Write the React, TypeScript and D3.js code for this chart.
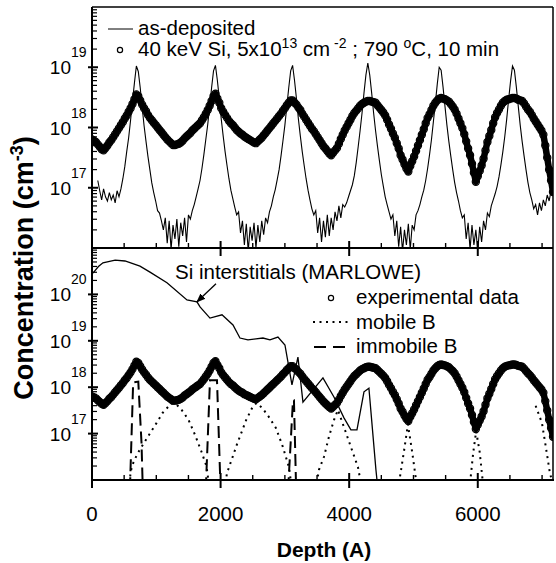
import React from 'react';
import * as d3 from 'd3';

// ---------- data ----------
const xDomain = [0, 7170];
const xTickValues = [0, 2000, 4000, 6000];
const xTickLabels = ['0', '2000', '4000', '6000'];
const xMinorStep = 500;
const topExponents = [17, 18, 19];
const botExponents = [17, 18, 19, 20];

// as-deposited SIMS profile (log10 concentration), depth = asDepStart + i*asDepStep
const asDepStart = 90;
const asDepStep = 30;
const asDeposited = [
  17.12, 16.95, 16.8, 16.98, 16.85, 16.78, 16.92, 16.8, 16.88, 16.75,
  16.95, 16.85, 16.98, 17.15, 17.35, 17.6, 17.83, 18.12, 18.44, 18.74,
  19.02, 18.93, 18.66, 18.34, 18.03, 17.77, 17.52, 17.3, 17.08, 16.92,
  16.78, 16.62, 16.58, 16.45, 16.3, 16.5, 16.08, 16.45, 15.98, 16.38,
  16.15, 16.48, 16.02, 16.42, 16.2, 16.5, 16.1, 16.55, 16.48, 16.62,
  16.72, 16.85, 16.98, 17.12, 17.32, 17.55, 17.8, 18.05, 18.35, 18.66,
  18.94, 19.03, 18.78, 18.48, 18.14, 17.86, 17.6, 17.37, 17.15, 16.96,
  16.82, 16.68, 16.55, 16.6, 16.25, 16.45, 16.05, 16.4, 15.95, 16.35,
  16.12, 16.42, 16.0, 16.38, 16.1, 16.45, 16.22, 16.5, 16.42, 16.6,
  16.7, 16.85, 16.97, 17.13, 17.3, 17.53, 17.78, 18.04, 18.35, 18.66,
  18.94, 19.03, 18.78, 18.48, 18.14, 17.86, 17.6, 17.37, 17.15, 16.96,
  16.8, 16.65, 16.55, 16.62, 16.25, 16.5, 16.1, 16.45, 16.18, 16.55,
  16.2, 16.5, 16.3, 16.6, 16.45, 16.7, 16.5, 16.72, 16.68, 16.75,
  16.85, 16.95, 17.05, 17.2, 17.42, 17.68, 17.95, 18.24, 18.57, 18.87,
  19.07, 18.87, 18.57, 18.24, 17.95, 17.69, 17.45, 17.22, 17.03, 16.85,
  16.72, 16.6, 16.48, 16.55, 16.2, 16.45, 16.02, 16.35, 15.95, 16.3,
  16.05, 16.4, 15.98, 16.38, 16.3, 16.55, 16.62, 16.72, 16.85, 16.96,
  17.12, 17.32, 17.55, 17.8, 18.1, 18.4, 18.72, 19.0, 18.95, 18.67,
  18.35, 18.04, 17.77, 17.53, 17.3, 17.09, 16.92, 16.78, 16.62, 16.5,
  16.55, 16.15, 16.42, 15.98, 16.38, 16.05, 16.3, 15.96, 16.35, 16.1,
  16.45, 16.3, 16.58, 16.52, 16.7, 16.8, 16.9, 17.02, 17.18, 17.38,
  17.6, 17.85, 18.14, 18.47, 18.77, 19.02, 18.95, 18.67, 18.35, 18.04,
  17.77, 17.53, 17.3, 17.09, 16.92, 16.8, 16.65, 16.72, 16.55, 16.75,
  16.62, 16.8, 16.7, 16.88, 16.78, 16.95, 17.0,
];

// experimental data after 40 keV Si implant + anneal (log10), depth = expStart + i*expStep
const expStart = 0;
const expStep = 30;
const experimental = [
  17.8, 17.78, 17.76, 17.72, 17.68, 17.64, 17.62, 17.66, 17.7, 17.75,
  17.79, 17.84, 17.89, 17.94, 17.99, 18.04, 18.09, 18.15, 18.2, 18.26,
  18.32, 18.39, 18.47, 18.55, 18.52, 18.45, 18.38, 18.32, 18.27, 18.21,
  18.16, 18.12, 18.08, 18.04, 18.0, 17.96, 17.92, 17.88, 17.84, 17.8,
  17.77, 17.74, 17.71, 17.71, 17.72, 17.73, 17.75, 17.78, 17.82, 17.85,
  17.88, 17.91, 17.95, 17.98, 18.01, 18.04, 18.07, 18.12, 18.17, 18.23,
  18.29, 18.36, 18.44, 18.52, 18.56, 18.48, 18.41, 18.32, 18.26, 18.21,
  18.16, 18.11, 18.07, 18.04, 18.0, 17.96, 17.93, 17.9, 17.88, 17.85,
  17.83, 17.81, 17.79, 17.77, 17.75, 17.74, 17.77, 17.8, 17.83, 17.87,
  17.91, 17.95, 17.99, 18.03, 18.07, 18.11, 18.15, 18.19, 18.23, 18.28,
  18.32, 18.37, 18.41, 18.45, 18.45, 18.41, 18.38, 18.33, 18.29, 18.23,
  18.18, 18.13, 18.08, 18.03, 17.98, 17.94, 17.89, 17.84, 17.79, 17.74,
  17.69, 17.65, 17.61, 17.57, 17.54, 17.58, 17.62, 17.66, 17.73, 17.81,
  17.88, 17.95, 18.01, 18.07, 18.13, 18.19, 18.24, 18.28, 18.32, 18.36,
  18.39, 18.41, 18.43, 18.44, 18.44, 18.43, 18.42, 18.41, 18.37, 18.33,
  18.29, 18.25, 18.2, 18.13, 18.05, 17.98, 17.9, 17.83, 17.74, 17.65,
  17.54, 17.47, 17.39, 17.32, 17.27, 17.36, 17.44, 17.52, 17.61, 17.7,
  17.79, 17.88, 17.97, 18.07, 18.16, 18.22, 18.29, 18.36, 18.41, 18.45,
  18.48, 18.49, 18.48, 18.47, 18.45, 18.43, 18.39, 18.35, 18.3, 18.23,
  18.15, 18.07, 17.99, 17.89, 17.77, 17.65, 17.54, 17.4, 17.25, 17.1,
  17.19, 17.28, 17.37, 17.48, 17.62, 17.76, 17.86, 17.96, 18.07, 18.17,
  18.24, 18.3, 18.36, 18.41, 18.44, 18.46, 18.47, 18.48, 18.49, 18.49,
  18.48, 18.46, 18.45, 18.44, 18.4, 18.35, 18.3, 18.26, 18.21, 18.15,
  18.1, 18.05, 18.0, 17.95, 17.88, 17.7, 17.5, 17.3, 17.12, 16.93,
];

// Si interstitials (MARLOWE): [depth, log10]
const siInterstitials: [number, number][] = [
  [15, 20.46], [100, 20.6], [170, 20.68], [360, 20.74], [513, 20.72], [746, 20.61],
  [902, 20.48], [1166, 20.25], [1477, 19.88], [1633, 19.84], [1680, 19.73],
  [1835, 19.49], [2022, 19.56], [2193, 19.34], [2301, 19.06], [2426, 19.02],
  [2550, 19.04], [2659, 19.06], [2768, 19.02], [2892, 19.08], [3001, 18.91],
  [3110, 18.05], [3203, 18.65], [3281, 17.68], [3592, 18.2], [3763, 17.79],
  [3919, 17.34], [4027, 17.08], [4121, 17.08], [4230, 17.9], [4307, 17.98],
  [4416, 16.22], [4447, 15.8],
];

// mobile B: separate arcs [depth, log10]
const mobileB: [number, number][][] = [
  [[560, 15.8], [620, 16.3], [700, 16.55], [800, 16.78], [900, 17.0], [1000, 17.22],
   [1100, 17.45], [1200, 17.6], [1260, 17.66], [1320, 17.62], [1400, 17.5],
   [1500, 17.3], [1600, 16.98], [1700, 16.62], [1780, 16.3], [1830, 15.8]],
  [[2060, 15.8], [2100, 16.15], [2250, 16.75], [2400, 17.3], [2500, 17.58],
   [2560, 17.66], [2650, 17.55], [2750, 17.36], [2860, 17.12], [2960, 16.75],
   [3063, 16.28], [3110, 15.8]],
  [[3480, 15.8], [3530, 16.22], [3608, 16.5], [3685, 16.93], [3763, 17.29],
   [3825, 17.51], [3919, 17.14], [4027, 16.71], [4136, 16.28], [4200, 15.8]],
  [[4760, 15.8], [4850, 16.6], [4914, 17.2], [4980, 16.6], [5060, 15.8]],
  [[5870, 15.8], [5930, 16.6], [5975, 17.05], [6030, 16.6], [6090, 15.8]],
  [[6900, 17.6], [6998, 17.23], [7060, 16.7], [7122, 16.15], [7170, 15.9]],
];

// immobile B: separate spikes [depth, log10]
const immobileB: [number, number][][] = [
  [[590, 15.8], [640, 18.1], [720, 18.12], [770, 16.8], [790, 15.8]],
  [[1770, 15.8], [1835, 18.15], [1944, 18.15], [1990, 16.2], [2000, 15.8]],
  [[3050, 15.8], [3126, 17.72], [3141, 17.72], [3175, 15.8]],
];

// ---------- layout ----------
const W = 556;
const H = 563;
const L = 92;
const R = 553;
const TOP = 7;
const MID = 248;
const BOT = 480;
const FONT = "'Liberation Sans', Arial, Helvetica, sans-serif";

const x = d3.scaleLinear().domain(xDomain).range([L, R]);
const yT = d3.scaleLog().domain([1e16, 1e20]).range([MID, TOP]);
const yB = d3.scaleLog().domain([1e16, 1e21]).range([BOT, MID]);

const p10 = (v: number) => Math.pow(10, v);

function minorTicks(lo: number, hi: number) {
  const out: number[] = [];
  for (let e = lo; e < hi; e++) for (let m = 2; m <= 9; m++) out.push(m * p10(e));
  return out;
}

function YAxis({ y, lo, hi, labels }: { y: any; lo: number; hi: number; labels: number[] }) {
  return (
    <g>
      {minorTicks(lo, hi).map((v, i) => (
        <line key={'m' + i} x1={L} x2={L + 5} y1={y(v)} y2={y(v)} stroke="#000" strokeWidth={1.2} />
      ))}
      {labels.map((e) => (
        <g key={e}>
          <line x1={L - 4} x2={L + 6} y1={y(p10(e))} y2={y(p10(e))} stroke="#000" strokeWidth={2} />
          <text x={71} y={y(p10(e)) + 7} textAnchor="end" fontSize={19} fontFamily={FONT}>10</text>
          <text x={71} y={y(p10(e)) - 10} textAnchor="start" fontSize={14} fontFamily={FONT}>{String(e)}</text>
        </g>
      ))}
    </g>
  );
}

function XTicks({ y0 }: { y0: number }) {
  const minors = d3.range(xMinorStep, xDomain[1], xMinorStep).filter((v) => !xTickValues.includes(v));
  return (
    <g>
      {minors.map((v) => (
        <line key={v} x1={x(v)} x2={x(v)} y1={y0} y2={y0 - 5} stroke="#000" strokeWidth={1.4} />
      ))}
      {xTickValues.filter((v) => v > 0).map((v) => (
        <line key={'M' + v} x1={x(v)} x2={x(v)} y1={y0 - 7} y2={y0 + 8} stroke="#000" strokeWidth={2} />
      ))}
    </g>
  );
}

function ExpBand({ y }: { y: any }) {
  const pts: [number, number][] = experimental.map((v, i) => [expStart + i * expStep, v]);
  const line = d3.line<[number, number]>().x((d) => x(d[0])).y((d) => y(p10(d[1])));
  return (
    <g>
      <path d={line(pts) || ''} fill="none" stroke="#000" strokeWidth={6.5} strokeLinejoin="round" strokeLinecap="round" />
      {pts.map((d, i) => (
        <circle key={i} cx={x(d[0])} cy={y(p10(d[1]))} r={3.6} fill="none" stroke="#000" strokeWidth={1.2} />
      ))}
    </g>
  );
}

export default function App() {
  const lineTop = d3.line<[number, number]>().x((d) => x(d[0])).y((d) => yT(p10(d[1])));
  const lineBot = d3.line<[number, number]>().x((d) => x(d[0])).y((d) => yB(p10(d[1])));
  const asDepPts: [number, number][] = asDeposited.map((v, i) => [asDepStart + i * asDepStep, v]);

  const tip: [number, number] = [x(siInterstitials[9][0]), yB(p10(siInterstitials[9][1]))];
  const tail: [number, number] = [tip[0] + 19, tip[1] - 18];

  return (
    <div style={{ position: 'absolute', left: 0, top: 0 }}>
      <svg width={W} height={H} style={{ display: 'block', background: '#fff' }}>
        <defs>
          <clipPath id="clipTop"><rect x={L} y={TOP} width={R - L} height={MID - TOP} /></clipPath>
          <clipPath id="clipBot"><rect x={L} y={MID} width={R - L} height={BOT - MID} /></clipPath>
          <marker id="arrow" viewBox="0 0 10 10" refX={9} refY={5} markerWidth={7} markerHeight={7} orient="auto">
            <path d="M0,1 L10,5 L0,9 z" fill="#000" />
          </marker>
        </defs>

        {/* top panel data */}
        <g clipPath="url(#clipTop)">
          <path d={lineTop(asDepPts) || ''} fill="none" stroke="#000" strokeWidth={1.1} />
          <ExpBand y={yT} />
        </g>

        {/* bottom panel data */}
        <g clipPath="url(#clipBot)">
          {mobileB.map((seg, i) => (
            <path key={'mb' + i} d={lineBot(seg) || ''} fill="none" stroke="#000" strokeWidth={2} strokeDasharray="2,4.5" />
          ))}
          {immobileB.map((seg, i) => (
            <path key={'ib' + i} d={lineBot(seg) || ''} fill="none" stroke="#000" strokeWidth={2} strokeDasharray="12,6" />
          ))}
          <path d={lineBot(siInterstitials) || ''} fill="none" stroke="#000" strokeWidth={1.3} />
          <ExpBand y={yB} />
        </g>

        {/* frame */}
        <line x1={L} x2={R} y1={TOP} y2={TOP} stroke="#000" strokeWidth={1.5} />
        <line x1={R} x2={R} y1={TOP} y2={BOT} stroke="#000" strokeWidth={1.5} />
        <line x1={L} x2={R} y1={MID} y2={MID} stroke="#000" strokeWidth={2} />
        <line x1={L} x2={R + 1} y1={BOT} y2={BOT} stroke="#000" strokeWidth={2} />
        <line x1={L} x2={L} y1={TOP} y2={BOT + 8} stroke="#000" strokeWidth={2} />

        <YAxis y={yT} lo={16} hi={20} labels={topExponents} />
        <YAxis y={yB} lo={16} hi={21} labels={botExponents} />
        <XTicks y0={MID} />
        <XTicks y0={BOT} />

        {xTickValues.map((v, i) => (
          <text key={v} x={x(v)} y={521} textAnchor="middle" fontSize={20.5} fontFamily={FONT}>{xTickLabels[i]}</text>
        ))}
        <text x={324} y={557} textAnchor="middle" fontSize={21} fontWeight="bold" fontFamily={FONT}>Depth (A)</text>
        <text transform="translate(33,268) rotate(-90)" textAnchor="middle" fontSize={27} fontWeight="bold" fontFamily={FONT}>
          Concentration (cm<tspan dy={-10} fontSize={18}>-3</tspan><tspan dy={10}>)</tspan>
        </text>

        {/* top legend */}
        <line x1={108} x2={133} y1={29} y2={29} stroke="#000" strokeWidth={1} />
        <text x={138} y={35} fontSize={20.5} fontFamily={FONT}>as-deposited</text>
        <circle cx={120} cy={50} r={2.6} fill="none" stroke="#000" strokeWidth={1.2} />
        <text x={138} y={56} fontSize={20.5} fontFamily={FONT}>
          40 keV Si, 5x10<tspan dy={-8} fontSize={14}>13</tspan>
          <tspan dy={8}> cm</tspan>
          <tspan dy={-8} fontSize={14}> -2</tspan>
          <tspan dy={8}> ; 790 </tspan>
          <tspan dy={-8} fontSize={14}>o</tspan>
          <tspan dy={8}>C, 10 min</tspan>
        </text>

        {/* bottom annotations */}
        <text x={175} y={279} fontSize={20.5} fontFamily={FONT}>Si interstitials (MARLOWE)</text>
        <line x1={tail[0]} y1={tail[1]} x2={tip[0]} y2={tip[1]} stroke="#000" strokeWidth={1.3} markerEnd="url(#arrow)" />

        <circle cx={331} cy={298} r={2.6} fill="none" stroke="#000" strokeWidth={1.2} />
        <text x={356} y={304} fontSize={20.5} fontFamily={FONT}>experimental data</text>
        <line x1={313} x2={349} y1={322} y2={322} stroke="#000" strokeWidth={2} strokeDasharray="2,4.5" />
        <text x={356} y={329} fontSize={20.5} fontFamily={FONT}>mobile B</text>
        <line x1={314} x2={345} y1={347} y2={347} stroke="#000" strokeWidth={2} strokeDasharray="12,7" />
        <text x={356} y={353} fontSize={20.5} fontFamily={FONT}>immobile B</text>
      </svg>
    </div>
  );
}
